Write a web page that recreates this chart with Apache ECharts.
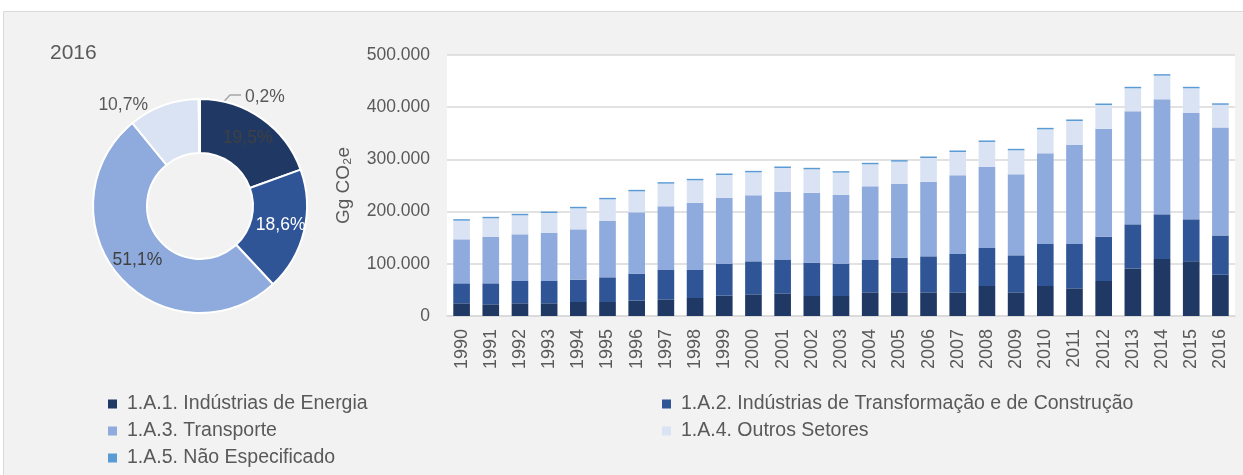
<!DOCTYPE html>
<html>
<head>
<meta charset="utf-8">
<title>Energia - emissões 1990-2016</title>
<script src="https://cdn.jsdelivr.net/npm/echarts@6/dist/echarts.min.js"></script>
<style>
html, body { margin: 0; padding: 0; background: #fff; }
#grafico { width: 1243px; height: 475px; }
</style>
</head>
<body>
<div id="grafico"></div>
<script>
// dados (Gg CO2e)
var anos = ['1990', '1991', '1992', '1993', '1994', '1995', '1996', '1997', '1998', '1999',
    '2000', '2001', '2002', '2003', '2004', '2005', '2006', '2007', '2008', '2009',
    '2010', '2011', '2012', '2013', '2014', '2015', '2016'];
var energia = [24300, 22400, 24300, 24300, 26800, 26800, 29400, 31900, 34500, 39000,
    41500, 43400, 38300, 38300, 45300, 45300, 45300, 45300, 57500, 45300,
    57500, 53000, 67100, 90700, 109200, 104700, 79000];
var industria = [38300, 40200, 42800, 42800, 42800, 47300, 51700, 56200, 53600, 61300,
    63200, 63900, 63900, 62000, 62000, 66500, 69000, 73500, 72800, 70900,
    80400, 84900, 84900, 84900, 85600, 80500, 75300];
var transporte = [84300, 89400, 89400, 91900, 96400, 107900, 117500, 122000, 129000, 126400,
    126500, 130900, 134100, 131500, 141100, 141100, 143100, 150700, 155200, 155200,
    173700, 189700, 206900, 216500, 220300, 203700, 207000];
var outros = [35700, 35100, 36400, 38300, 40300, 41500, 40200, 43400, 42800, 43400,
    44000, 45300, 44700, 42800, 42200, 42800, 45300, 44700, 47900, 46000,
    46000, 46000, 45300, 44100, 45300, 47300, 43300];
var naoEspecificado = [900, 900, 900, 900, 900, 900, 900, 900, 900, 900,
    900, 900, 900, 900, 900, 900, 900, 900, 900, 900,
    900, 900, 900, 900, 900, 900, 800];
var nomes = ['1.A.1. Indústrias de Energia', '1.A.2. Indústrias de Transformação e de Construção',
    '1.A.3. Transporte', '1.A.4. Outros Setores', '1.A.5. Não Especificado'];
var ticksY = [0, 100000, 200000, 300000, 400000, 500000];

var cores = ['#203864', '#2f5597', '#8faadc', '#dae3f3', '#5b9bd5'];
var series = [energia, industria, transporte, outros, naoEspecificado];
var fonte = 'Liberation Sans';
var cinza = '#595959';
var centro = [200, 206];
var raios = [53, 107];

function milhar(v) {
    return String(v).replace(/\B(?=(\d{3})+(?!\d))/g, '.');
}
function pct(p) {
    return p.toFixed(1).replace('.', ',') + '%';
}

var ultimo = anos.length - 1;
var rotulos = [
    { position: 'inside', color: '#404040' },
    { position: 'inside', color: '#fff' },
    { position: 'inside', color: '#404040' },
    { position: 'outside', color: cinza },
    { position: 'outside', color: cinza }
];
var dadosPizza = nomes.map(function (n, i) {
    return {
        name: n,
        value: series[i][ultimo],
        itemStyle: { color: cores[i] },
        label: rotulos[i],
        labelLine: { show: i === 4 }
    };
});

var barras = nomes.map(function (n, i) {
    return {
        name: n,
        type: 'bar',
        stack: 'total',
        barWidth: '57%',
        barMinHeight: i === 4 ? 1.5 : 0,
        itemStyle: { color: cores[i] },
        data: series[i]
    };
});

var dom = document.getElementById('grafico');
var myChart = echarts.init(dom, null, { renderer: 'canvas' });

var legendaTexto = { fontFamily: fonte, fontSize: 19.5, color: cinza, lineHeight: 20, padding: [0, 0, 0, 5] };

var option = {
    animation: false,
    backgroundColor: '#fff',
    textStyle: { fontFamily: fonte },
    graphic: [{
        type: 'rect',
        left: 3,
        top: 11,
        z: -100,
        silent: true,
        shape: { width: 1240, height: 464 },
        style: { fill: '#f2f2f2', stroke: '#d9d9d9', lineWidth: 1 }
    }],
    title: {
        text: '2016',
        left: 50,
        top: 43,
        padding: 0,
        textStyle: { fontFamily: fonte, fontSize: 21, fontWeight: 'normal', color: cinza }
    },
    legend: [{
        left: 108,
        top: 394,
        height: 80,
        padding: 0,
        orient: 'vertical',
        itemGap: 7,
        itemWidth: 9,
        itemHeight: 9,
        icon: 'rect',
        selectedMode: false,
        data: [nomes[0], nomes[2], nomes[4]],
        textStyle: legendaTexto
    }, {
        left: 662,
        top: 394,
        height: 80,
        padding: 0,
        orient: 'vertical',
        itemGap: 7,
        itemWidth: 9,
        itemHeight: 9,
        icon: 'rect',
        selectedMode: false,
        data: [nomes[1], nomes[3]],
        textStyle: legendaTexto
    }],
    grid: {
        left: 447,
        right: 8,
        top: 55,
        bottom: 159,
        show: true,
        backgroundColor: '#fff',
        borderWidth: 0,
        containLabel: false,
        outerBoundsMode: 'none'
    },
    xAxis: {
        type: 'category',
        data: anos,
        axisLine: { lineStyle: { color: '#d9d9d9', width: 1.5 } },
        axisTick: { show: false },
        axisLabel: { rotate: 90, margin: 13, fontFamily: fonte, fontSize: 18, color: cinza }
    },
    yAxis: {
        type: 'value',
        min: ticksY[0],
        max: ticksY[ticksY.length - 1],
        interval: ticksY[1] - ticksY[0],
        name: 'Gg CO₂e',
        nameLocation: 'middle',
        nameRotate: 90,
        nameGap: 94,
        nameTextStyle: { fontFamily: fonte, fontSize: 19, color: cinza },
        axisLine: { show: false },
        axisTick: { show: false },
        axisLabel: { formatter: milhar, margin: 17, fontFamily: fonte, fontSize: 17.5, color: cinza },
        splitLine: { lineStyle: { color: '#d9d9d9', width: 1.5 } }
    },
    series: barras.concat([{
        name: '2016',
        type: 'pie',
        center: centro,
        radius: raios,
        startAngle: 90,
        clockwise: true,
        itemStyle: { borderColor: '#fff', borderWidth: 2 },
        label: {
            show: true,
            fontFamily: fonte,
            fontSize: 17.5,
            formatter: function (p) { return pct(p.percent); }
        },
        labelLine: { lineStyle: { color: '#a6a6a6', width: 1.5 } },
        labelLayout: function (p) {
            if (p.dataIndex === 3) {
                return { x: 148, y: 105, align: 'right', verticalAlign: 'middle' };
            }
            if (p.dataIndex === 4) {
                var meio = (raios[0] + raios[1]) / 2;
                return {
                    x: 245, y: 97, align: 'left', verticalAlign: 'middle',
                    labelLinePoints: [[centro[0] + 1, centro[1] - meio], [230, 95], [241, 95]]
                };
            }
        },
        data: dadosPizza
    }])
};

if (option && typeof option === 'object') {
    myChart.setOption(option);
}
window.addEventListener('resize', myChart.resize);
</script>
</body>
</html>
